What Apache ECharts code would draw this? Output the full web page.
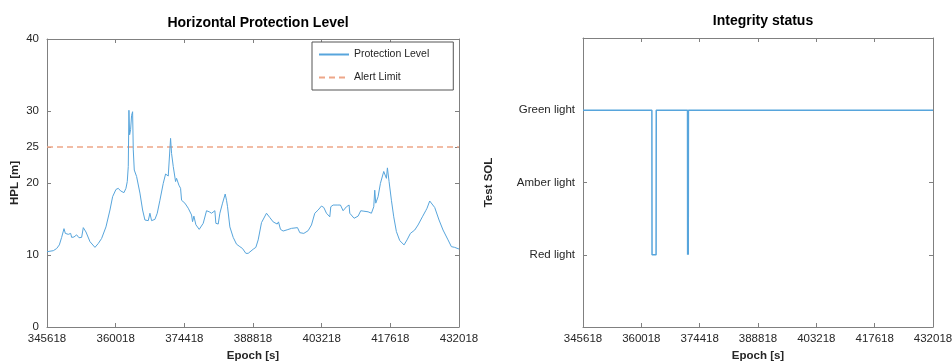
<!DOCTYPE html>
<html>
<head>
<meta charset="utf-8">
<title>Protection level and integrity status</title>
<script src="https://cdn.jsdelivr.net/npm/echarts@6/dist/echarts.min.js"></script>
<style>
  html, body { margin: 0; padding: 0; background: #ffffff; }
  #chart { width: 952px; height: 362px; }
</style>
</head>
<body>
<div id="chart"></div>
<script>
// Epoch axis ticks shared by both panels
const epochTicks = [345618, 360018, 374418, 388818, 403218, 417618, 432018];

// Horizontal protection level (m) sampled along the session
const epochs = [
  345618, 346945, 347644, 348202, 348691, 348901, 349180, 349460, 350088, 350577,
  350787, 351276, 351835, 352324, 352882, 353232, 353790, 354629, 355676, 356375,
  357073, 357981, 358820, 359378, 360077, 360566, 361055, 361753, 362172, 362452,
  362661, 362801, 362941, 363150, 363360, 363569, 363709, 363919, 364408, 365106,
  365665, 366154, 366852, 367202, 367551, 368249, 368738, 369297, 369996, 370485,
  371043, 371393, 371532, 371742, 372091, 372580, 372790, 373279, 373628, 373837,
  374536, 375234, 375933, 376142, 376422, 376841, 377539, 378378, 379076, 379635,
  380124, 380822, 381032, 381521, 381870, 382429, 382708, 382988, 383267, 383477,
  383966, 384664, 385363, 386061, 386410, 386620, 387319, 387807, 388855, 389414,
  389903, 390601, 391649, 392348, 393046, 393884, 394164, 394583, 395142, 395980,
  396888, 398145, 398634, 399472, 400380, 401079, 401777, 402476, 403174, 403663,
  404222, 404921, 405130, 405619, 406457, 406667, 407156, 407575, 407715, 408413,
  408972, 409112, 410020, 410858, 411207, 411417, 411906, 412953, 413652, 414141,
  414350, 414560, 415049, 415538, 416236, 416795, 417005, 417354, 417843, 418332,
  418891, 419589, 420497, 421126, 421824, 422732, 423431, 424339, 425037, 425317,
  425876, 426225, 426923, 427831, 428670, 429717, 430416, 431114, 432018
];
const hpl = [
  10.46, 10.6, 10.9, 11.4, 12.45, 12.5, 13.66, 13.0, 12.87, 13.0,
  12.45, 12.5, 12.8, 12.4, 12.45, 13.8, 13.2, 11.85, 11.06, 11.6,
  12.3, 13.9, 16.25, 18.1, 19.1, 19.26, 18.9, 18.66, 19.26, 20.2,
  22.3, 30.1, 26.7, 27.4, 29.4, 29.9, 24.6, 21.8, 20.9, 18.6,
  16.25, 14.86, 14.77, 15.8, 14.77, 14.95, 15.8, 17.6, 19.95, 21.25,
  20.97, 20.9, 26.2, 24.1, 22.3, 20.2, 20.65, 19.7, 19.26, 17.6,
  17.2, 16.5, 15.56, 14.63, 15.4, 14.2, 13.56, 14.4, 16.15, 16.0,
  15.8, 16.15, 14.4, 14.3, 15.8, 17.2, 17.3, 18.47, 17.6, 16.7,
  13.9, 12.45, 11.5, 11.16, 11.3, 10.9, 10.23, 10.23, 10.8, 11.06,
  12.1, 14.5, 15.8, 15.2, 14.6, 14.3, 14.6, 13.56, 13.33, 13.5,
  13.7, 13.8, 13.1, 13.0, 13.38, 14.17, 15.8, 16.25, 16.8, 16.6,
  15.8, 15.3, 16.7, 16.94, 16.94, 17.2, 16.94, 17.1, 16.15, 16.7,
  16.94, 15.8, 15.1, 15.4, 15.2, 16.15, 16.1, 16.0, 15.8, 16.7,
  19.0, 17.2, 18.1, 19.95, 21.6, 20.65, 22.1, 20.2, 17.6, 15.3,
  13.25, 12.0, 11.4, 12.1, 13.0, 13.47, 14.17, 15.3, 16.15, 16.5,
  17.5, 17.4, 16.6, 14.86, 13.47, 12.1, 11.16, 11.06, 10.83
];
const alertLimit = 25;
const hplTicks = [0, 10, 20, 25, 30, 40];

// Integrity status from the SOL test (1 = red, 2 = amber, 3 = green)
const statusNames = ['Red light', 'Amber light', 'Green light'];
const statusEpochs = [345618, 362620, 362660, 363660, 363700, 371420, 371450, 371560, 371600, 371640, 432018];
const statusValues = [3, 3, 1, 1, 3, 3, 1, 2, 1, 3, 3];

const FONT = '"Liberation Sans", Arial, Helvetica, sans-serif';
const TEXT = '#262626';
const AXIS = '#808080';
const LINE = '#57a5dc';
const ALERT = '#eea688';

function xAxisCfg(gridIndex, position, withLabels) {
  return {
    type: 'value', gridIndex, position,
    min: epochTicks[0], max: epochTicks[epochTicks.length - 1],
    name: withLabels ? 'Epoch [s]' : '',
    nameLocation: 'middle', nameGap: 22,
    nameTextStyle: { fontFamily: FONT, fontSize: 11.5, fontWeight: 'bold', color: TEXT },
    axisLine: { show: true, onZero: false, lineStyle: { color: AXIS, width: 1 } },
    axisTick: { show: true, inside: true, length: 4, customValues: epochTicks, lineStyle: { color: AXIS } },
    axisLabel: { show: withLabels, customValues: epochTicks, margin: 6, fontFamily: FONT, fontSize: 11.5, color: TEXT,
                 formatter: v => String(Math.round(v)), hideOverlap: false },
    splitLine: { show: false }
  };
}

function yAxisCfg(gridIndex, position, withLabels, opts) {
  return Object.assign({
    type: 'value', gridIndex, position,
    nameLocation: 'middle',
    nameTextStyle: { fontFamily: FONT, fontSize: 11.5, fontWeight: 'bold', color: TEXT },
    axisLine: { show: true, onZero: false, lineStyle: { color: AXIS, width: 1 } },
    splitLine: { show: false }
  }, opts, {
    axisTick: { show: true, inside: true, length: 4, customValues: opts.ticks, lineStyle: { color: AXIS } },
    axisLabel: { show: withLabels, customValues: opts.ticks, margin: 8, fontFamily: FONT, fontSize: 11.5, color: TEXT,
                 formatter: opts.fmt }
  });
}

const chart = echarts.init(document.getElementById('chart'), null, { renderer: 'canvas' });

chart.setOption({
  animation: false,
  backgroundColor: '#ffffff',
  title: [
    { text: 'Horizontal Protection Level', left: 253, top: 11, textAlign: 'center',
      textStyle: { fontFamily: FONT, fontSize: 14, fontWeight: 'bold', color: '#000' } },
    { text: 'Integrity status', left: 758, top: 9, textAlign: 'center',
      textStyle: { fontFamily: FONT, fontSize: 14, fontWeight: 'bold', color: '#000' } }
  ],
  grid: [
    { left: 47, right: 493, top: 39, bottom: 35, containLabel: false, outerBoundsMode: 'none' },
    { left: 583, right: 19, top: 38, bottom: 35, containLabel: false, outerBoundsMode: 'none' }
  ],
  legend: {
    left: 312, top: 42, orient: 'vertical',
    data: ['Protection Level', 'Alert Limit'],
    itemWidth: 30, itemHeight: 13, itemGap: 12, itemTextGap: 6,
    padding: [7, 24, 7, 6],
    borderColor: '#555', borderWidth: 1, backgroundColor: '#fff',
    itemStyle: { opacity: 0 },
    textStyle: { fontFamily: FONT, fontSize: 10.5, color: TEXT },
    selectedMode: false
  },
  xAxis: [
    xAxisCfg(0, 'bottom', true),
    xAxisCfg(0, 'top', false),
    xAxisCfg(1, 'bottom', true),
    xAxisCfg(1, 'top', false)
  ],
  yAxis: [
    yAxisCfg(0, 'left', true, { min: 0, max: 40, ticks: hplTicks, fmt: v => String(v), name: 'HPL [m]', nameGap: 26 }),
    yAxisCfg(0, 'right', false, { min: 0, max: 40, ticks: hplTicks, fmt: v => String(v) }),
    yAxisCfg(1, 'left', true, { min: 0, max: 4, ticks: [1, 2, 3], fmt: v => statusNames[Math.round(v) - 1] || '', name: 'Test SOL', nameGap: 88 }),
    yAxisCfg(1, 'right', false, { min: 0, max: 4, ticks: [1, 2, 3], fmt: v => '' })
  ],
  series: [
    {
      name: 'Protection Level', type: 'line', xAxisIndex: 0, yAxisIndex: 0,
      data: epochs.map((e, i) => [e, hpl[i]]),
      showSymbol: false, symbol: 'none',
      lineStyle: { color: LINE, width: 1 }, itemStyle: { color: LINE },
      z: 3
    },
    {
      name: 'Alert Limit', type: 'line', xAxisIndex: 0, yAxisIndex: 0,
      data: [[epochTicks[0], alertLimit], [epochTicks[epochTicks.length - 1], alertLimit]],
      showSymbol: false, symbol: 'none',
      lineStyle: { color: ALERT, width: 1.5, type: [6, 4] }, itemStyle: { color: ALERT },
      z: 2
    },
    {
      name: 'Integrity', type: 'line', xAxisIndex: 2, yAxisIndex: 2,
      data: statusEpochs.map((e, i) => [e, statusValues[i]]),
      showSymbol: false, symbol: 'none',
      lineStyle: { color: LINE, width: 1.5 }, itemStyle: { color: LINE }
    }
  ]
});
</script>
</body>
</html>
